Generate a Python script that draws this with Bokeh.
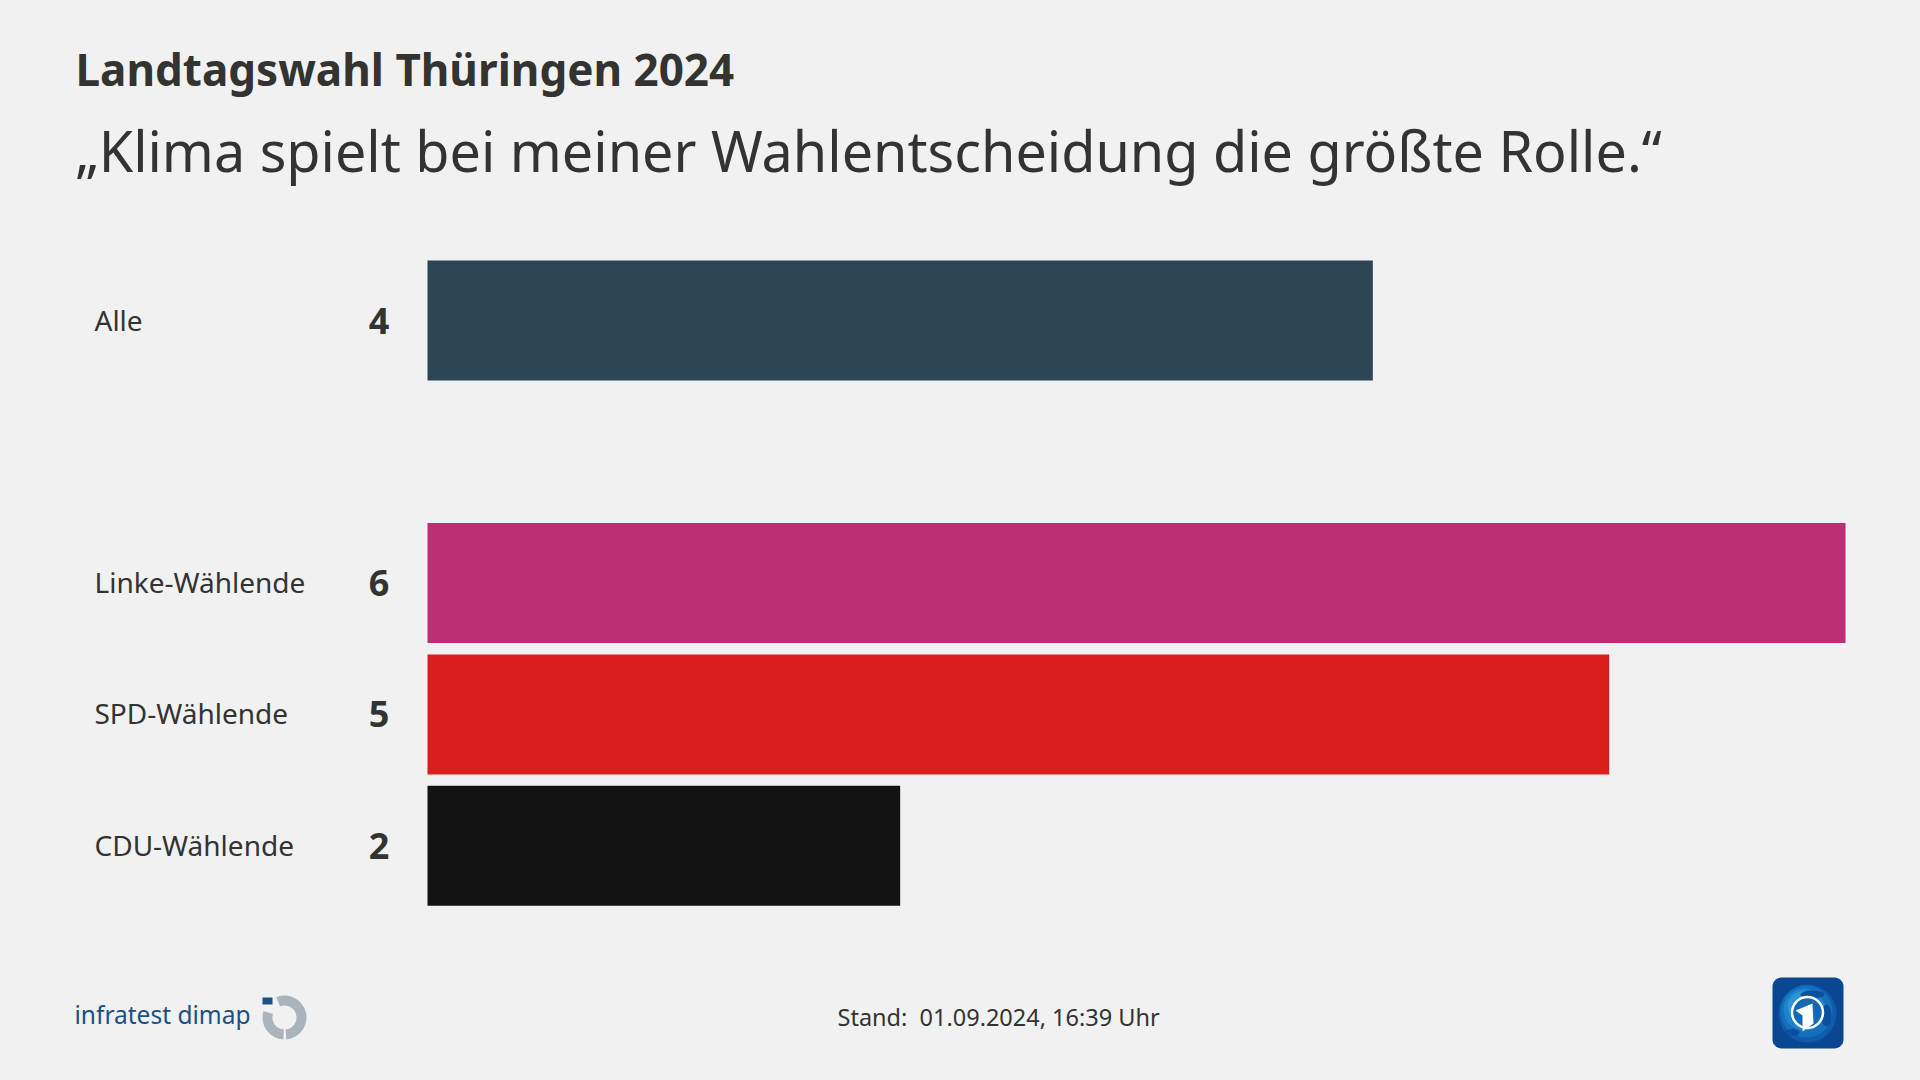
import numpy as np
from bokeh.plotting import figure
from bokeh.models import Range1d, ColumnDataSource
from bokeh.core.properties import value
from bokeh.embed import file_html
from bokeh.resources import INLINE

title = "Landtagswahl Thüringen 2024"
subtitle = "„Klima spielt bei meiner Wahlentscheidung die größte Rolle.“"
footer = "Stand:\u00a0\u00a001.09.2024, 16:39 Uhr"
brand = "infratest dimap"
categories = ["Alle", "Linke-Wählende", "SPD-Wählende", "CDU-Wählende"]
values = [4, 6, 5, 2]
rows = [0, 2, 3, 4]
colors = ["#2c4557", "#bc2f73", "#d91f1d", "#131313"]

BG = "#f1f1f1"
INK = "#333331"
FONT = "Noto Sans"
W, H = 1920, 1080
UX = (1845 - 427) / 6
UY = 131.3
X0, Y0 = 427, 320

p = figure(width=W, height=H, output_backend="svg", toolbar_location=None,
           x_range=Range1d(-X0 / UX, (W - X0) / UX),
           y_range=Range1d((H - Y0) / UY, -Y0 / UY),
           min_border=0, outline_line_color=None,
           background_fill_color=BG, border_fill_color=BG)
p.axis.visible = False
p.grid.visible = False
p.extra_x_ranges["px"] = Range1d(0, W)
p.extra_y_ranges["px"] = Range1d(H, 0)
PX = dict(x_range_name="px", y_range_name="px")

src = ColumnDataSource(dict(y=rows, v=values, c=colors, cat=categories,
                            s=[str(v) for v in values], z=[0] * 4))
p.hbar(y="y", left="z", right="v", height=120 / UY, fill_color="c",
       line_color=None, source=src)
p.text(x="z", y="y", text="cat", source=src, x_offset=94 - 427, y_offset=-1, text_align="left",
       text_baseline="middle", text_font=value(FONT), text_font_size="28px", text_color=INK)
p.text(x="z", y="y", text="s", source=src, x_offset=378.5 - 427, text_align="center",
       text_baseline="middle", text_font=value(FONT), text_font_style="bold",
       text_font_size="36px", text_color=INK)


def put(x, y, t, size, color=INK, style="normal", font=FONT):
    p.text(x=[x], y=[y], text=[t], text_font=value(font), text_font_size=size, text_color=color,
           text_font_style=style, text_align="left", text_baseline="middle", **PX)


put(75, 68, title, "44px", style="bold")
put(75, 149, subtitle, "55.7px")
put(837, 1016, footer, "23.5px")
put(74, 1014, brand, "24.5px", color="#1c4f84")

# infratest dimap mark
GR = "#a9b4bc"
ring = dict(inner_radius=12, outer_radius=22, inner_radius_units="screen", outer_radius_units="screen",
            direction="anticlock", fill_color=GR, line_color=None)
p.annular_wedge(x=[284], y=[1017], start_angle=np.radians(-85), end_angle=np.radians(112), **ring, **PX)
p.annular_wedge(x=[284], y=[1017], start_angle=np.radians(163), end_angle=np.radians(267), **ring, **PX)
p.quad(left=[262], right=[272], top=[997], bottom=[1004], fill_color="#1c4f84", line_color=None, **PX)

# broadcaster mark
l, r, t, b, rad = 1772, 1843, 977, 1048, 9
ang = np.linspace(0, np.pi / 2, 8)
xs = np.concatenate([r - rad + rad * np.cos(ang), l + rad - rad * np.sin(ang),
                     l + rad - rad * np.cos(ang), r - rad + rad * np.sin(ang)])
ys = np.concatenate([t + rad - rad * np.sin(ang), t + rad - rad * np.cos(ang),
                     b - rad + rad * np.sin(ang), b - rad + rad * np.cos(ang)])
p.patch(xs, ys, fill_color="#0a4793", line_color=None, **PX)
for cx, cy, radius, col in [(1807, 1013, 29, "#0e5cab"), (1806, 1011, 26, "#1470bd"),
                            (1804, 1009, 21, "#1c84cc"), (1802, 1006, 15, "#2a96d8")]:
    p.scatter(x=[cx], y=[cy], size=2 * radius, marker="circle", fill_color=col, line_color=None, **PX)
p.ellipse(x=[1812, 1826, 1792], y=[994, 1015, 1032], width=[24, 10, 14], height=[8, 22, 7],
          fill_color="#0d4f9e", line_color=None, **PX)
p.scatter(x=[1807], y=[1012], size=31, marker="circle", fill_color="#1568b6", line_color="white",
          line_width=2.5, **PX)
p.patch([1795, 1812, 1813, 1802, 1802], [1010, 1003, 1023, 1031, 1015], fill_color="white", line_color=None, **PX)

html = file_html(p, INLINE)
html = html.replace("<head>", "<head><style>html,body{background:%s;margin:0!important;overflow:hidden}</style>" % BG, 1)
open("out.html", "w").write(html)
